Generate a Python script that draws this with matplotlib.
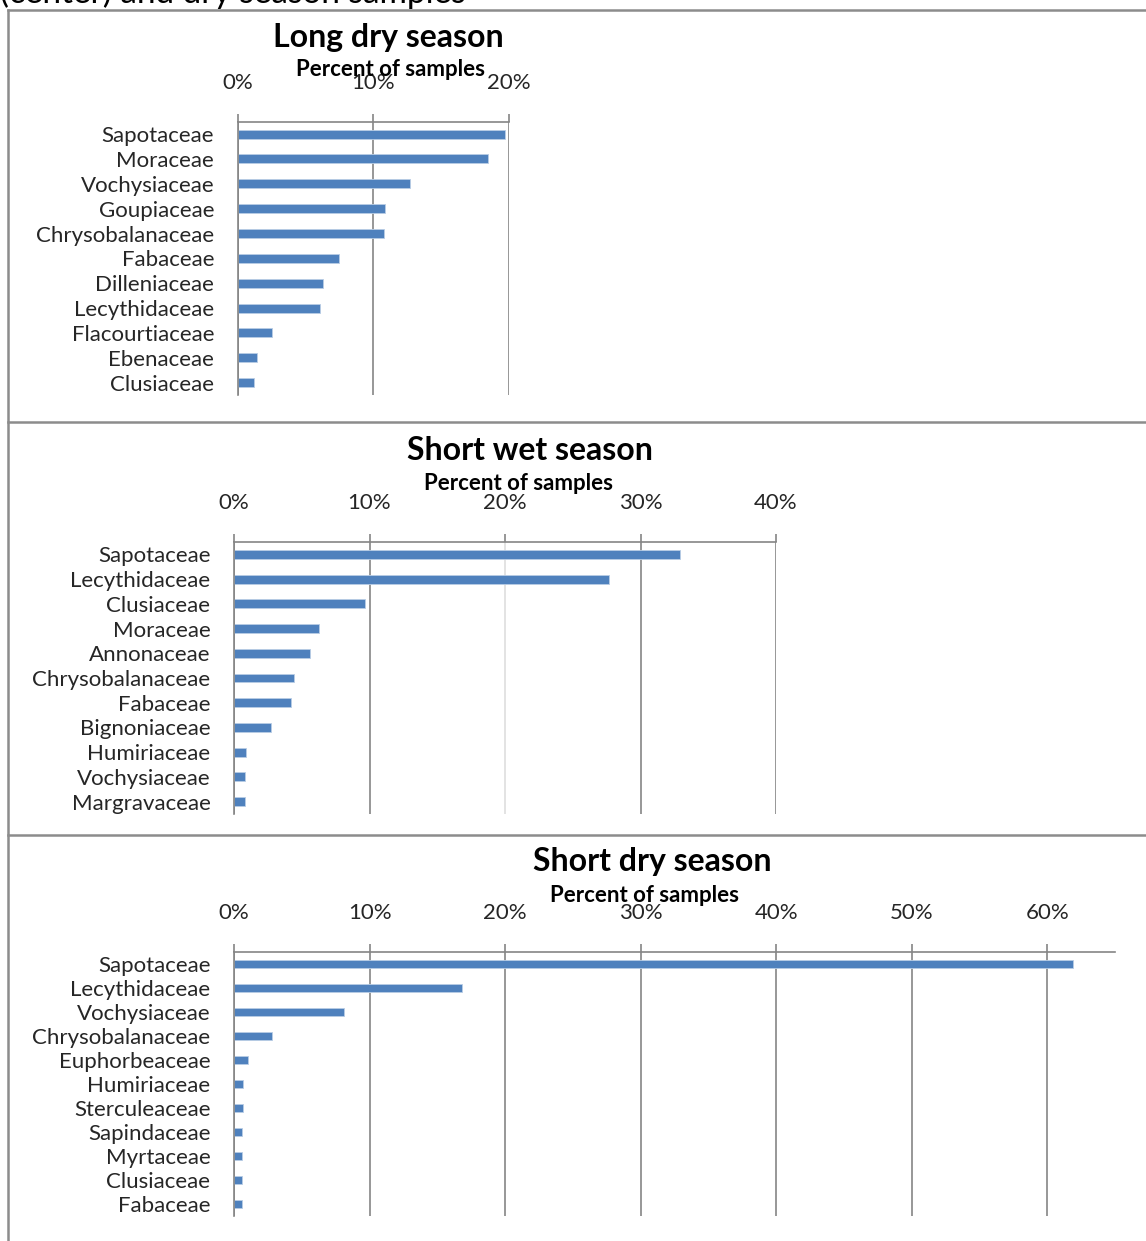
import matplotlib
matplotlib.use("Agg")
import matplotlib.pyplot as plt
from matplotlib.lines import Line2D
from matplotlib.ticker import FuncFormatter

plt.rcParams['font.family'] = ['Lato', 'DejaVu Sans']

# Percent of samples per plant family, by season
long_dry_families = ['Sapotaceae', 'Moraceae', 'Vochysiaceae', 'Goupiaceae', 'Chrysobalanaceae',
                     'Fabaceae', 'Dilleniaceae', 'Lecythidaceae', 'Flacourtiaceae', 'Ebenaceae',
                     'Clusiaceae']
long_dry_pct = [19.7, 18.5, 12.7, 10.9, 10.8, 7.5, 6.3, 6.1, 2.5, 1.4, 1.2]

short_wet_families = ['Sapotaceae', 'Lecythidaceae', 'Clusiaceae', 'Moraceae', 'Annonaceae',
                      'Chrysobalanaceae', 'Fabaceae', 'Bignoniaceae', 'Humiriaceae', 'Vochysiaceae',
                      'Margravaceae']
short_wet_pct = [32.9, 27.7, 9.7, 6.3, 5.6, 4.4, 4.2, 2.7, 0.9, 0.8, 0.8]

short_dry_families = ['Sapotaceae', 'Lecythidaceae', 'Vochysiaceae', 'Chrysobalanaceae', 'Euphorbeaceae',
                      'Humiriaceae', 'Sterculeaceae', 'Sapindaceae', 'Myrtaceae', 'Clusiaceae',
                      'Fabaceae']
short_dry_pct = [61.9, 16.8, 8.1, 2.8, 1.0, 0.7, 0.7, 0.6, 0.6, 0.6, 0.6]

W, H = 1146, 1241
fig = plt.figure(figsize=(W / 100, H / 100), dpi=100)

BLUE = '#4F81BD'
GRID = '#858585'
FRAME = '#8c8c8c'


def px_box(left, top, right, bottom):
    return [left / W, 1 - bottom / H, (right - left) / W, (bottom - top) / H]


def season_panel(box, families, values, xmax, title, title_xy, label_xy):
    ax = fig.add_axes(px_box(*box))
    ax.barh(range(len(families)), values, height=0.36, color=BLUE,
            edgecolor='#b9cde5', linewidth=0.6)
    ax.set_ylim(len(families) - 0.5, -0.5)
    ax.set_xlim(0, xmax)
    ax.set_yticks(range(len(families)))
    ax.set_yticklabels(families)
    ax.set_xticks(range(0, xmax + 1, 10))
    ax.xaxis.set_major_formatter(FuncFormatter(lambda v, p: f'{v:.0f}%'))
    ax.xaxis.tick_top()
    ax.tick_params(axis='x', direction='out', length=6, width=1.2, color=GRID,
                   pad=15, labelsize=16, labelcolor='#262626')
    ax.tick_params(axis='y', length=0, pad=17, labelsize=16, labelcolor='#262626')
    for s in ('right', 'bottom'):
        ax.spines[s].set_visible(False)
    for s in ('top', 'left'):
        ax.spines[s].set_color(GRID)
        ax.spines[s].set_linewidth(1.2)
    ax.grid(axis='x', color=GRID, linewidth=1.2)
    ax.set_axisbelow(True)
    fig.text(title_xy[0] / W, 1 - title_xy[1] / H, title, ha='center', va='center',
             fontsize=23, fontweight='bold', color='black')
    fig.text(label_xy[0] / W, 1 - label_xy[1] / H, 'Percent of samples', ha='center',
             va='center', fontsize=16, fontweight='bold', color='black')
    return ax


season_panel((237.7, 121.7, 508.7, 395), long_dry_families, long_dry_pct, 20,
             'Long dry season', (388, 38), (390, 69))
ax2 = season_panel((234, 542, 776, 814), short_wet_families, short_wet_pct, 40,
                   'Short wet season', (530, 451), (519, 484))
ax2.get_xgridlines()[2].set_color('#dedede')
season_panel((234, 952, 1115, 1216), short_dry_families, short_dry_pct, 65,
             'Short dry season', (652, 862), (644, 896))

# caption line running off the top edge
fig.text(0 / W, 1 - 9 / H, '(center) and dry season samples', ha='left', va='bottom',
         fontsize=24, color='black')

# panel frames
for y in (10, 422, 835):
    fig.add_artist(Line2D([8 / W, 1], [1 - y / H, 1 - y / H], color=FRAME, linewidth=1.8))
fig.add_artist(Line2D([8 / W, 8 / W], [0, 1 - 10 / H], color=FRAME, linewidth=1.8))

fig.savefig('out.png', dpi=100)
